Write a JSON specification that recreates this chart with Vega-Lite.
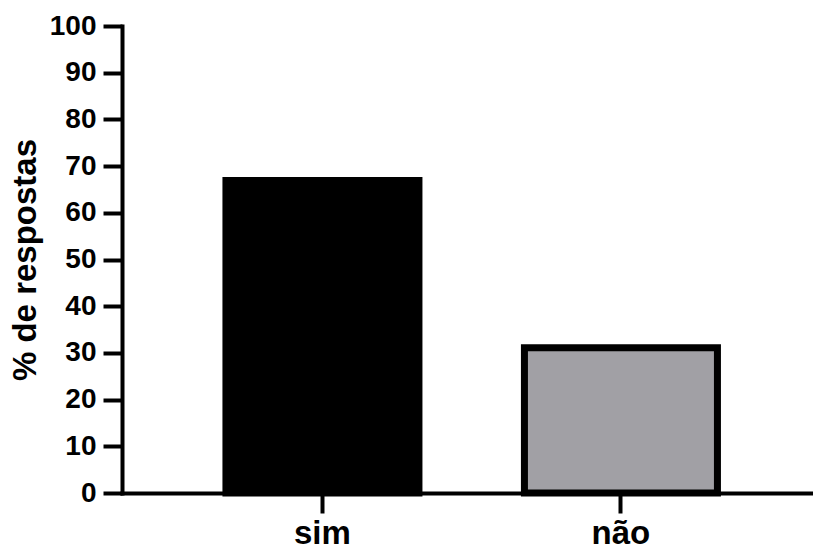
{
  "$schema": "https://vega.github.io/schema/vega-lite/v6.json",
  "width": 691,
  "height": 467,
  "autosize": {"type": "none"},
  "padding": {"left": 122, "top": 26, "right": 0, "bottom": 59},
  "background": "white",
  "config": {
    "view": {"stroke": null},
    "font": "Liberation Sans"
  },
  "data": {
    "values": [
      {"resposta": "sim", "pct": 66.9},
      {"resposta": "não", "pct": 31.1}
    ]
  },
  "mark": {"type": "bar", "strokeWidth": 7, "stroke": "black"},
  "encoding": {
    "x": {
      "field": "resposta",
      "type": "nominal",
      "sort": ["sim", "não"],
      "scale": {"paddingInner": 0.3534, "paddingOuter": 0.3342, "align": 0.521},
      "axis": {
        "title": null,
        "labelAngle": 0,
        "labelFont": "Liberation Sans",
        "labelFontWeight": "bold",
        "labelFontSize": 33,
        "labelColor": "black",
        "labelPadding": 4,
        "tickSize": 20,
        "tickWidth": 4,
        "tickColor": "black",
        "domainColor": "black",
        "domainWidth": 4,
        "domainCap": "square"
      }
    },
    "y": {
      "field": "pct",
      "type": "quantitative",
      "scale": {"domain": [0, 100], "nice": false},
      "axis": {
        "title": "% de respostas",
        "titleFont": "Liberation Sans",
        "titleFontWeight": "bold",
        "titleFontSize": 33,
        "titleColor": "black",
        "titlePadding": 7,
        "values": [0, 10, 20, 30, 40, 50, 60, 70, 80, 90, 100],
        "grid": false,
        "labelFont": "Liberation Sans",
        "labelFontWeight": "bold",
        "labelFontSize": 28,
        "labelColor": "black",
        "labelPadding": 7,
        "tickSize": 19,
        "tickWidth": 4,
        "tickColor": "black",
        "domainColor": "black",
        "domainWidth": 4,
        "domainCap": "square"
      }
    },
    "color": {
      "field": "resposta",
      "type": "nominal",
      "scale": {"domain": ["sim", "não"], "range": ["#000000", "#a1a0a5"]},
      "legend": null
    }
  }
}
